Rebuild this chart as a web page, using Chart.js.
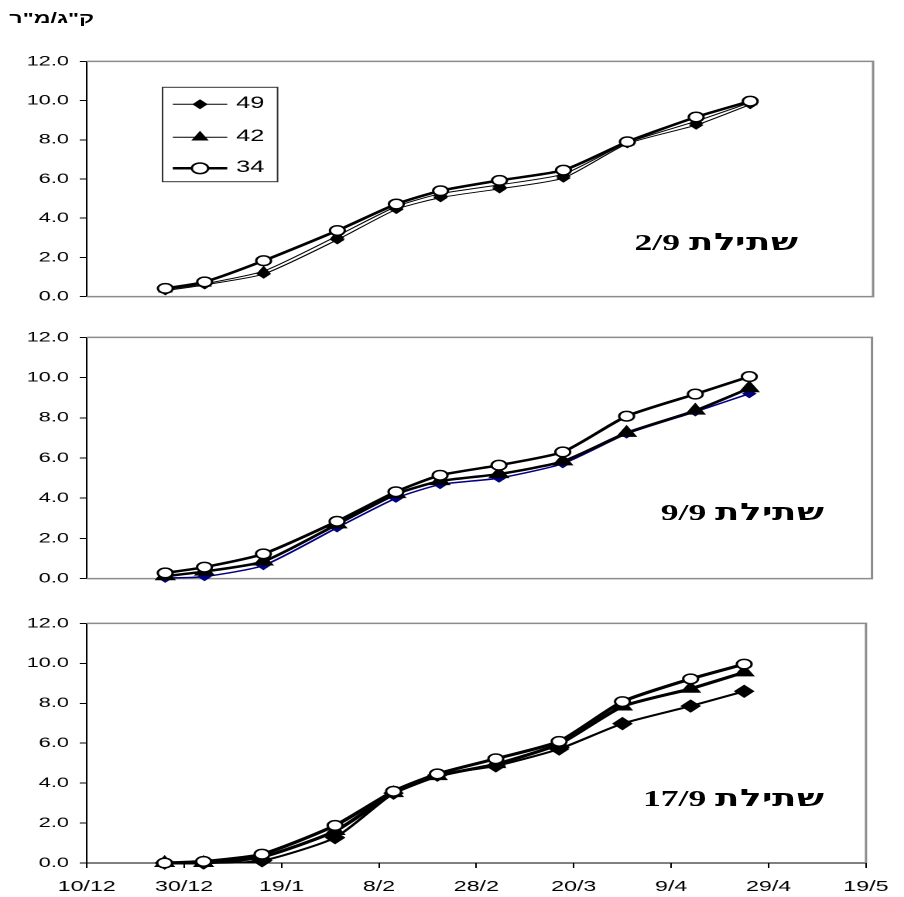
<!DOCTYPE html>
<html>
<head>
<meta charset="utf-8">
<script src="https://cdn.jsdelivr.net/npm/chart.js@4.4.1/dist/chart.umd.min.js"></script>
<style>
  @font-face { font-family: "TagHeb"; src: local("DejaVu Sans Bold"), local("DejaVuSans-Bold"); unicode-range: U+0590-05FF; font-weight: bold; }
  html, body { margin: 0; padding: 0; background: #fff; }
  body { width: 904px; height: 897px; overflow: hidden; position: relative; }
  /* the reference is stretched sideways, so the whole sheet is drawn narrow and widened */
  #page { position: absolute; left: 0; top: 0; width: 584px; height: 897px; transform: scaleX(1.548); transform-origin: 0 0; }
  .panel { position: absolute; left: 0; width: 584px; }
  .unit { position: absolute; left: 6px; top: 9px; font: bold 15px "Liberation Sans", Arial, sans-serif; color: #000; }
  .tag { position: absolute; font: bold 23px "TagHeb", "Liberation Serif", "Times New Roman", serif; direction: rtl; white-space: nowrap; transform: translateY(-50%); color: #000; }
</style>
</head>
<body>
<div id="page">
  <div class="unit" dir="rtl">ק"ג/מ"ר</div>
  <div class="panel" style="top:46px;height:266px"><canvas id="c1"></canvas></div>
  <div class="panel" style="top:321.7px;height:272px"><canvas id="c2"></canvas></div>
  <div class="panel" style="top:608.3px;height:289px"><canvas id="c3"></canvas></div>
  <div class="tag" style="right:69px;top:241.7px">שתילת 2/9</div>
  <div class="tag" style="right:52px;top:511.7px">שתילת 9/9</div>
  <div class="tag" style="right:52px;top:798px">שתילת 17/9</div>
</div>
<script>
const seriesNames = ['49', '42', '34'];

// sampling dates, day/month (season starts 10/12)
const sampleDates = ['26/12', '3/1', '15/1', '30/1', '11/2', '20/2', '4/3', '17/3', '30/3', '13/4', '24/4'];
const xTickLabels = ['10/12', '30/12', '19/1', '8/2', '28/2', '20/3', '9/4', '29/4', '19/5'];

// planting 2/9
const plant1_49 = [0.3, 0.6, 1.15, 2.9, 4.45, 5.05, 5.5, 6.05, 7.8, 8.75, 9.8];
const plant1_42 = [0.35, 0.65, 1.3, 3.1, 4.6, 5.25, 5.7, 6.25, 7.85, 8.95, 9.9];
const plant1_34 = [0.42, 0.75, 1.83, 3.37, 4.72, 5.4, 5.93, 6.45, 7.9, 9.16, 9.97];

// planting 9/9
const plant2_49 = [0.02, 0.1, 0.65, 2.53, 4.0, 4.68, 5.0, 5.72, 7.2, 8.3, 9.2];
const plant2_42 = [0.12, 0.35, 0.85, 2.7, 4.2, 4.85, 5.2, 5.83, 7.25, 8.36, 9.47];
const plant2_34 = [0.28, 0.57, 1.23, 2.85, 4.32, 5.14, 5.64, 6.3, 8.08, 9.18, 10.05];

// planting 17/9
const plant3_49 = [0.0, 0.0, 0.11, 1.27, 3.5, 4.4, 4.86, 5.71, 6.98, 7.86, 8.6];
const plant3_42 = [0.0, 0.0, 0.3, 1.6, 3.5, 4.35, 4.95, 5.96, 7.84, 8.73, 9.55];
const plant3_34 = [0.0, 0.08, 0.44, 1.88, 3.59, 4.46, 5.22, 6.09, 8.08, 9.22, 9.96];

const FONT = '"Liberation Sans", Arial, sans-serif';
const DAY = 24 * 3600 * 1000;
const start = Date.UTC(2000, 11, 10);

function dayOf(s) {
  const [d, m] = s.split('/').map(Number);
  const y = m === 12 ? 2000 : 2001;
  return Math.round((Date.UTC(y, m - 1, d) - start) / DAY);
}
const sampleDays = sampleDates.map(dayOf);

function points(values) {
  return values.map((v, i) => ({ x: sampleDays[i], y: v }));
}

const frame = {
  id: 'frame',
  beforeDatasetsDraw(chart, args, opts) {
    const { ctx, chartArea: a } = chart;
    ctx.save();
    ctx.strokeStyle = '#8c8c8c';
    ctx.lineWidth = 1.5;
    ctx.beginPath();
    if (opts.bottom) {
      ctx.moveTo(a.left, a.bottom);
      ctx.lineTo(a.right, a.bottom);
    } else {
      ctx.moveTo(a.right, a.bottom);
    }
    ctx.lineTo(a.right, a.top);
    ctx.lineTo(a.left, a.top);
    ctx.stroke();
    ctx.restore();
  }
};

const boxLegend = {
  id: 'boxLegend',
  afterDatasetsDraw(chart, args, opts) {
    if (!opts.show) return;
    const ctx = chart.ctx;
    ctx.save();
    ctx.strokeStyle = '#333';
    ctx.lineWidth = 1;
    ctx.strokeRect(opts.x, opts.y, opts.w, opts.h);
    chart.data.datasets.forEach((ds, i) => {
      const y = opts.rows[i];
      ctx.strokeStyle = '#000';
      ctx.lineWidth = opts.lineWidths[i];
      ctx.beginPath();
      ctx.moveTo(opts.x0, y);
      ctx.lineTo(opts.x1, y);
      ctx.stroke();
      ctx.fillStyle = ds.pointBackgroundColor;
      ctx.strokeStyle = ds.pointBorderColor;
      ctx.lineWidth = ds.pointBorderWidth;
      Chart.helpers.drawPoint(ctx, {
        pointStyle: ds.pointStyle, radius: opts.radii[i], rotation: 0, borderWidth: ds.pointBorderWidth
      }, (opts.x0 + opts.x1) / 2, y);
      ctx.fillStyle = '#000';
      ctx.font = '16.5px ' + FONT;
      ctx.textBaseline = 'middle';
      ctx.textAlign = 'left';
      ctx.fillText(ds.label, opts.tx, y - 1);
    });
    ctx.restore();
  }
};

function makePanel(id, v49, v42, v34, look) {
  const datasets = [
    {
      label: seriesNames[0], data: points(v49), order: 2,
      borderColor: look.c49, borderWidth: look.w49,
      pointStyle: 'rectRot', pointRadius: look.r49,
      pointBackgroundColor: look.c49, pointBorderColor: look.c49, pointBorderWidth: 1
    },
    {
      label: seriesNames[1], data: points(v42), order: 1,
      borderColor: '#000', borderWidth: look.w42,
      pointStyle: 'triangle', pointRadius: look.r42,
      pointBackgroundColor: '#000', pointBorderColor: '#000', pointBorderWidth: 1
    },
    {
      label: seriesNames[2], data: points(v34), order: 0,
      borderColor: '#000', borderWidth: look.w34,
      pointStyle: 'circle', pointRadius: 4.8,
      pointBackgroundColor: '#fff', pointBorderColor: '#000', pointBorderWidth: 1.5
    }
  ];

  return new Chart(document.getElementById(id), {
    type: 'line',
    data: { datasets },
    options: {
      responsive: true,
      maintainAspectRatio: false,
      devicePixelRatio: 2,
      animation: false,
      events: [],
      clip: false,
      elements: { line: { tension: 0.2 } },
      layout: { padding: { top: 10, right: look.padRight, bottom: 0, left: 0 } },
      scales: {
        x: {
          type: 'linear',
          min: 0,
          max: 160,
          afterFit: (s) => { s.height = look.xHeight; },
          border: { display: look.xLabels, color: '#000', width: 1 },
          grid: { display: look.xLabels, drawOnChartArea: false, tickLength: 5, color: '#000' },
          ticks: {
            display: look.xLabels,
            stepSize: 20,
            autoSkip: false,
            maxRotation: 0,
            padding: 10,
            color: '#000',
            font: { family: FONT, size: 15 },
            callback: (v) => xTickLabels[Math.round(v / 20)]
          }
        },
        y: {
          min: 0,
          max: 12,
          afterFit: (s) => { s.width = 56; },
          border: { color: '#000', width: 1 },
          grid: { drawOnChartArea: false, tickLength: 4.5, color: '#000' },
          ticks: {
            stepSize: 2,
            padding: 7,
            color: '#000',
            font: { family: FONT, size: 14 },
            callback: (v) => v.toFixed(1)
          }
        }
      },
      plugins: {
        legend: { display: false },
        tooltip: { enabled: false },
        frame: { bottom: !look.xLabels },
        boxLegend: look.legend || { show: false }
      }
    },
    plugins: [frame, boxLegend]
  });
}

makePanel('c1', plant1_49, plant1_42, plant1_34, {
  c49: '#000', w49: 1, r49: 4, w42: 1, r42: 4.5, w34: 2.5,
  padRight: 20, xHeight: 9.3, xLabels: false,
  legend: {
    show: true, x: 105, y: 41.3, w: 74.3, h: 94.4,
    rows: [58.3, 91.3, 122.3], x0: 111.6, x1: 146.8, tx: 152.5,
    lineWidths: [1, 1, 2.5], radii: [4.3, 5.5, 5.3]
  }
});

makePanel('c2', plant2_49, plant2_42, plant2_34, {
  c49: '#000080', w49: 1.5, r49: 4, w42: 2.5, r42: 7, w34: 2.5,
  padRight: 20.7, xHeight: 9.4, xLabels: false
});

makePanel('c3', plant3_49, plant3_42, plant3_34, {
  c49: '#000', w49: 2, r49: 6, w42: 3, r42: 7, w34: 3,
  padRight: 16.2, xHeight: 34, xLabels: true
});
</script>
</body>
</html>
